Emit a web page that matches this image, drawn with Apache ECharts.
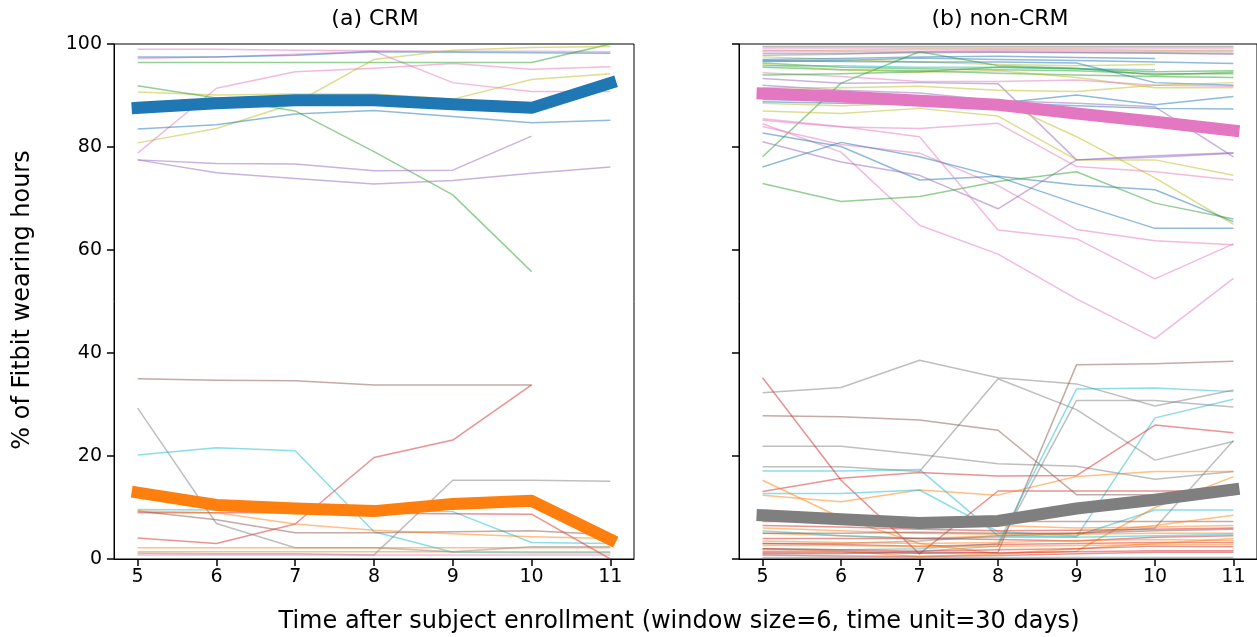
<!DOCTYPE html>
<html>
<head>
<meta charset="utf-8">
<script src="https://cdn.jsdelivr.net/npm/echarts@6/dist/echarts.min.js"></script>
<style>
  html, body { margin: 0; padding: 0; background: #fff; }
  #container { width: 1257px; height: 637px; }
</style>
</head>
<body>
<div id="container"></div>
<script>
// matplotlib tab10 cycle
var palette = ['#1f77b4', '#ff7f0e', '#2ca02c', '#d62728', '#9467bd',
               '#8c564b', '#e377c2', '#7f7f7f', '#bcbd22', '#17becf'];

var months = [5, 6, 7, 8, 9, 10, 11];

// (a) CRM - individual subjects, one row per subject (null = no data)
var crmLines = [
    [99, 99, 98.8, 98.7, 98.6, 98.6, 98.5],
    [97.2, 97.5, 98, 98.6, 92.5, 90.8, 90.8],
    [97.5, 97.5, 97.8, 98.5, 98.4, 98.3, 98.2],
    [96.4, 96.4, 96.4, 96.4, 96.4, 96.4, 100],
    [80.8, 83.6, 88.5, 97, 98.8, 99.3, 99.5],
    [90.7, 90.1, 90.3, 90.3, 89.3, 93.1, 94.2],
    [78.8, 91.4, 94.6, 95.3, 96.2, 95.1, 95.6],
    [91.9, 89.5, 87, 79.1, 70.7, 55.8, null],
    [83.5, 84.3, 86.4, 87.1, 85.9, 84.7, 85.2],
    [77.5, 76.8, 76.7, 75.4, 75.5, 82.1, null],
    [77.5, 75.0, 73.9, 72.8, 73.5, 74.9, 76.1],
    [35, 34.7, 34.6, 33.8, 33.8, 33.8, null],
    [4.1, 3.0, 6.8, 19.7, 23.1, 33.8, null],
    [29.3, 6.9, 2.2, 2.2, 1.4, 2.4, 2.4],
    [1.1, 1.0, 1.0, 0.8, 15.3, 15.3, 15.1],
    [20.2, 21.6, 21.0, 5.3, 1.3, 1.2, 1.2],
    [9.6, 9.5, 9.4, 9.4, 9.2, 3.2, 3.0],
    [9.0, 9.0, 9.0, 8.9, 8.8, 8.7, 0],
    [9.3, 7.6, 5.1, 5.1, 5.3, 5.5, 4.7],
    [9.3, 9.0, 6.8, 5.6, 4.9, 4.3, 4.0],
    [1.4, 1.4, 1.4, 1.4, 1.4, 1.4, 1.4],
    [2.2, 2.2, 2.2, 2.2, 2.2, 2.2, 2.2],
    [0.8, 0.8, 0.8, 0.8, 0.8, 0.8, 0.8]
];
var crmColorIdx = [6, 6, 0, 2, 8, 8, 6, 2, 0, 4, 4, 5, 3, 7, 7, 9, 9, 3, 5, 1, 1, 1, 6];
var crmHigh = [87.6, 88.5, 89.1, 89.1, 88.3, 87.6, 92.4];
var crmLow = [12.9, 10.5, 9.8, 9.3, 10.7, 11.3, 3.8];

// (b) non-CRM
var nonLines = [
    [99.5, 99.5, 99.5, 99.5, 99.5, 99.5, 99.5],
    [99.2, 99.2, 99.2, 99.2, 99.2, 99.2, 99.2],
    [98.6, 98.8, 99, 99, 99, 98.8, 98.8],
    [98.2, 98.2, 98.3, 98.4, 98.3, 98.2, 98],
    [97.8, 98, 98.5, 98.5, 98.4, 98.3, 98.2],
    [96.6, 96.8, 97.3, 97, 96.8, 96.5, 96.2],
    [96.3, 95.5, 95.2, 95, 94.8, 94.2, 94.2],
    [97.5, 97, 96.5, 96, 95.8, 96, null],
    [78.1, 92.4, 98.5, 95.8, 95.3, 94, 94.5],
    [96.8, 96.6, 96.5, 96.5, 96.3, 92.5, 92],
    [95.5, 95, 94.8, 94.3, 94, 93.7, 93.5],
    [96, 95, 94.5, 94.8, 93.5, 91.5, 91.5],
    [94.4, 93.7, 92.7, 92.7, 93, 92, 91.8],
    [93.3, 92.4, 92.5, 92.3, 77.5, 78, 78.8],
    [87, 86.5, 87.5, 86, 77.5, 77.5, 74.5],
    [88.5, 88, 88.5, 89, 82, 74, 65],
    [88.8, 88.5, 88.3, 88.5, 90.1, 88.2, 89.8],
    [89.2, 89, 88.8, 88.6, 88, 87.5, 87.4],
    [85.2, 83.9, 83.6, 84.6, 76.2, 75.2, 73.6],
    [84, 80.5, 78.8, 72.5, 64, 61.8, 61],
    [84.5, 79, 64.8, 59.2, 50.5, 42.8, 54.5],
    [82.7, 80.1, 73.6, 74.3, 72.6, 71.7, 65.5],
    [76.1, 80.9, 78.1, 74.2, 69, 64.2, 64.2],
    [81, 77.1, 74.5, 68, 77.5, 78.3, 78.9],
    [72.9, 69.4, 70.4, 73.3, 75.2, 69.1, 66],
    [92, 91, 90.5, 89, 88.5, 87.8, 78.1],
    [85.5, 84, 82, 63.9, 62.2, 54.4, 61.2],
    [95.8, 95.8, 95.5, 95.5, 95.2, 95, null],
    [91.5, 91.5, 91.8, 91, 90.8, 92, 92.5],
    [97, 97.2, 97.5, 97.6, 97.4, 97.2, null],
    [94, 94.2, 94.6, 95.5, 95.2, 94.6, 94.8],
    [98.8, 98.6, 98.6, 98.8, 98.7, 98.6, 98.6],
    [32.3, 33.3, 38.6, 35.2, 34, 29.7, 32.8],
    [21.9, 21.9, 20.3, 18.5, 18, 15.5, 17],
    [17.9, 17.9, 17, 35, 29, 19.2, 22.8],
    [17.1, 17.1, 17.4, 4.5, 4.3, 27.4, 31],
    [13.1, 15.7, 16.8, 16.1, 16.2, 26, 24.5],
    [35.2, 15.3, 1, 13.2, 13.2, 13.2, 13.2],
    [12.4, 11.1, 13.4, 12.4, 16, 17, 17],
    [12.7, 12.7, 13.4, 5.3, 4.5, 9.5, 9.5],
    [27.8, 27.6, 27, 25, 12.5, 12.5, 12.5],
    [1.5, 1.5, 1.2, 1.3, 37.7, 37.9, 38.4],
    [2, 1.8, 2, 3, 33, 33.2, 32.5],
    [1, 1, 1.5, 2.5, 30.8, 30.8, 29.5],
    [15.3, 8, 3, 1, 1.5, 10, 16],
    [3, 3, 3.5, 4.5, 5, 6, 23],
    [5, 4.5, 4, 4.5, 4.8, 5, 5],
    [3, 2.8, 2.5, 2.8, 3, 3.2, 3.2],
    [7.3, 7.3, 7.3, 7.3, 7.3, 7.3, 7.3],
    [0.8, 0.6, 0.5, 0.7, 1, 1.3, 1.3],
    [2, 1.5, 0.5, 1, 2, 3, 4],
    [5.5, 4.5, 4, 4.2, 4.2, 4.5, 4.8],
    [4, 4, 4, 3.8, 3.5, 4.2, 4.5],
    [0.3, 0.3, 0.3, 0.3, 0.3, 0.3, 0.3],
    [6, 5.5, 5, 4.8, 5, 6.5, 8.5],
    [5, 5, 5.2, 5, 5, 5.5, 5.8],
    [2, 1.8, 1.5, 1.8, 2, 2.5, 2.4],
    [9.5, 8.5, 7, 6.5, 6, 6.2, 6.5],
    [1.2, 1.2, 1.1, 1.2, 1.4, 1.6, 1.6],
    [3.5, 3.2, 3, 3.2, 3.6, 3.8, 3.6],
    [6.5, 6.2, 5.8, 5.5, 5.6, 5.8, 6],
    [2.6, 2.6, 2.4, 2.5, 2.6, 2.8, 2.8]
];
var nonColorIdx = [7, 6, 8, 4, 7, 0, 2, 8, 2, 0, 2, 8, 6, 4, 8, 8, 0, 0, 6, 6, 6, 0, 0, 4, 2, 4, 6, 9, 8, 0, 2, 6,
                   7, 7, 7, 9, 3, 3, 1, 9, 5, 5, 9, 7, 1, 7, 1, 3, 5, 3, 1, 9, 3, 7, 1, 5, 3, 1, 3, 1, 3, 1];
var nonHigh = [90.4, 89.8, 89.0, 88.2, 86.5, 84.9, 83.2];
var nonLow = [8.5, 7.7, 7.0, 7.4, 9.8, 11.5, 13.5];

var FONT = 'DejaVu Sans';

function toPoints(vals) {
    var pts = [];
    vals.forEach(function (v, i) {
        if (v !== null) pts.push([months[i], v]);
    });
    return pts;
}

function thinSeries(lines, colorIdx, axis) {
    return lines.map(function (vals, i) {
        return {
            type: 'line',
            xAxisIndex: axis,
            yAxisIndex: axis,
            data: toPoints(vals),
            symbol: 'none',
            silent: true,
            z: 2,
            lineStyle: { width: 1.5, color: palette[colorIdx[i]], opacity: 0.5, join: 'round' }
        };
    });
}

function thickSeries(vals, color, axis) {
    return {
        type: 'line',
        xAxisIndex: axis,
        yAxisIndex: axis,
        data: toPoints(vals),
        symbol: 'none',
        silent: true,
        z: 5,
        lineStyle: { width: 12, color: color, opacity: 1, cap: 'square', join: 'round' }
    };
}

function xAxisFor(idx) {
    return {
        type: 'value',
        gridIndex: idx,
        min: 4.7,
        max: 11.3,
        splitLine: { show: false },
        axisLine: { lineStyle: { color: '#000', width: 1 } },
        axisTick: { show: true, length: 7, customValues: months, lineStyle: { color: '#000', width: 1.5 } },
        axisLabel: { customValues: months, margin: 9, fontFamily: FONT, fontSize: 19, color: '#000' }
    };
}

function yAxisFor(idx, showLabels) {
    return {
        type: 'value',
        gridIndex: idx,
        min: 0,
        max: 100,
        interval: 20,
        splitLine: { show: false },
        axisLine: { show: true, lineStyle: { color: '#000', width: 1 } },
        axisTick: { show: true, length: 7, lineStyle: { color: '#000', width: 1.5 } },
        axisLabel: { show: showLabels, margin: 12, fontFamily: FONT, fontSize: 19, color: '#000' }
    };
}

var myChart = echarts.init(document.getElementById('container'), null, { renderer: 'canvas' });

var series = []
    .concat(thinSeries(crmLines, crmColorIdx, 0))
    .concat(thinSeries(nonLines, nonColorIdx, 1));
series.push(thickSeries(crmHigh, palette[0], 0));
series.push(thickSeries(crmLow, palette[1], 0));
series.push(thickSeries(nonHigh, palette[6], 1));
series.push(thickSeries(nonLow, palette[7], 1));

var option = {
    animation: false,
    backgroundColor: '#fff',
    grid: [
        { left: 114, top: 44, width: 520, height: 515, show: true, borderColor: '#000', borderWidth: 1 },
        { left: 739, top: 44, width: 521, height: 515, show: true, borderColor: '#000', borderWidth: 1 }
    ],
    xAxis: [xAxisFor(0), xAxisFor(1)],
    yAxis: [yAxisFor(0, true), yAxisFor(1, false)],
    graphic: [
        { type: 'text', x: 375, y: 19, style: { text: '(a) CRM', font: '22px "DejaVu Sans"', fill: '#000', textAlign: 'center', textVerticalAlign: 'middle' } },
        { type: 'text', x: 1000, y: 19, style: { text: '(b) non-CRM', font: '22px "DejaVu Sans"', fill: '#000', textAlign: 'center', textVerticalAlign: 'middle' } },
        { type: 'text', x: 679, y: 622, style: { text: 'Time after subject enrollment (window size=6, time unit=30 days)', font: '24px "DejaVu Sans"', fill: '#000', textAlign: 'center', textVerticalAlign: 'middle' } },
        { type: 'text', x: 23, y: 300, rotation: Math.PI / 2, style: { text: '% of Fitbit wearing hours', font: '24px "DejaVu Sans"', fill: '#000', textAlign: 'center', textVerticalAlign: 'middle' } }
    ],
    series: series
};
myChart.setOption(option);
</script>
</body>
</html>
